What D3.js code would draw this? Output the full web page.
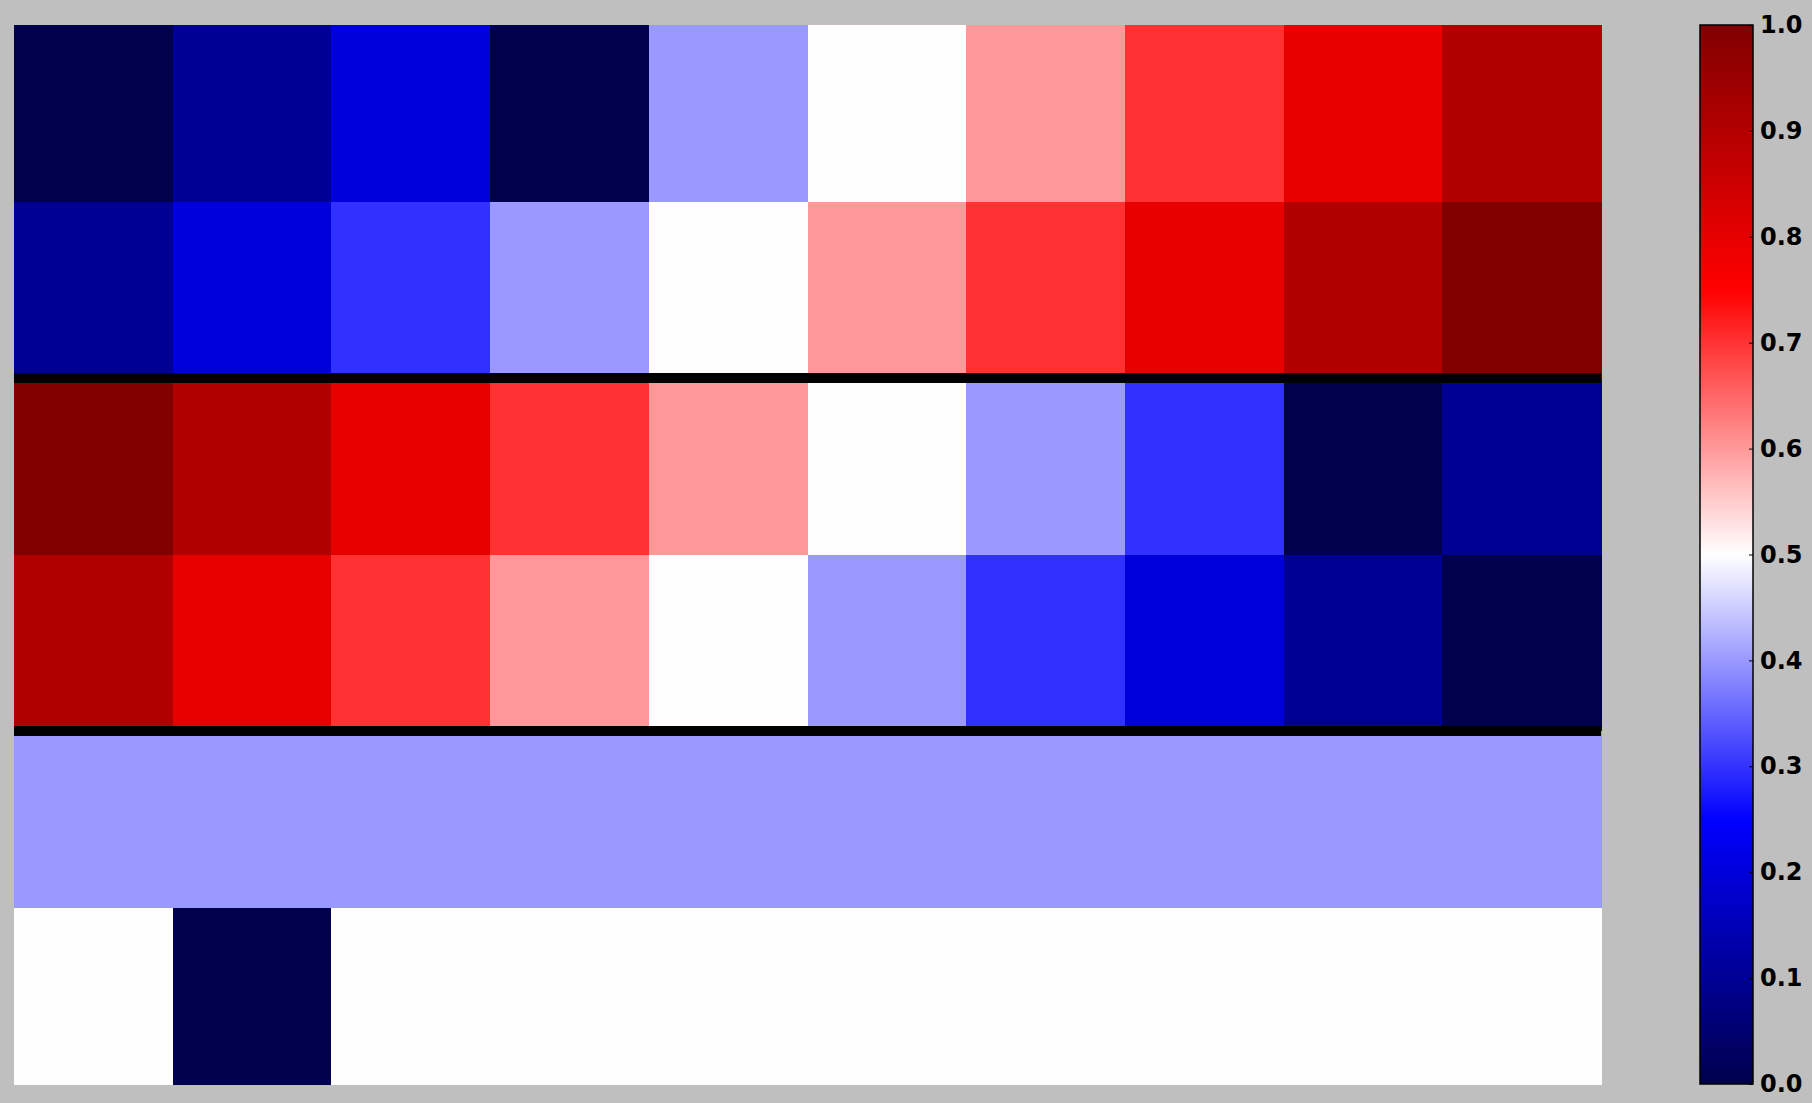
<!DOCTYPE html>
<html>
<head>
<meta charset="utf-8">
<script src="https://cdn.jsdelivr.net/npm/d3@7"></script>
<style>
  html, body { margin: 0; padding: 0; background: #bfbfbf; }
  svg { display: block; }
  .cbar text { font-family: "DejaVu Sans", sans-serif; font-weight: bold; font-size: 24px; fill: #000; }
</style>
</head>
<body>
<script>
var w = 1812, h = 1103;
var margin = {"left": 14, "top": 25, "bottom": 19};
var mapWidth = 1587;
var mapHeight = h - margin.top - margin.bottom;

var columns = ["c1","c2","c3","c4","c5","c6","c7","c8","c9","c10"];
var rows = ["r1","r2","r3","r4","r5","r6"];
var row1 = [0.0, 0.1, 0.2, 0.0, 0.4, 0.5, 0.6, 0.7, 0.8, 0.9];
var row2 = [0.1, 0.2, 0.3, 0.4, 0.5, 0.6, 0.7, 0.8, 0.9, 1.0];
var row3 = [1.0, 0.9, 0.8, 0.7, 0.6, 0.5, 0.4, 0.3, 0.0, 0.1];
var row4 = [0.9, 0.8, 0.7, 0.6, 0.5, 0.4, 0.3, 0.2, 0.1, 0.0];
var row5 = [0.4, 0.4, 0.4, 0.4, 0.4, 0.4, 0.4, 0.4, 0.4, 0.4];
var row6 = [0.5, 0.0, 0.5, 0.5, 0.5, 0.5, 0.5, 0.5, 0.5, 0.5];
var separators = [2, 4];   // black line after these rows
var tickValues = [0.0, 0.1, 0.2, 0.3, 0.4, 0.5, 0.6, 0.7, 0.8, 0.9, 1.0];

var matrix = [row1, row2, row3, row4, row5, row6];
var cells = [];
matrix.forEach(function(r, i){
    r.forEach(function(v, j){
        cells.push({row: rows[i], col: columns[j], value: v});
    });
});

// seismic colormap, quantised to 256 levels like matplotlib
var seismic = d3.scaleLinear()
    .domain([0, 0.25, 0.5, 0.75, 1])
    .range(["#00004c", "#0000ff", "#ffffff", "#ff0000", "#800000"])
    .clamp(true);
function colour(v){
    var idx = Math.min(255, Math.max(0, Math.floor(v * 256)));
    return seismic(idx / 255);
}

var svg = d3.select("body")
            .append("svg")
            .attr("width", w)
            .attr("height", h);

var xScale = d3.scaleBand()
                .domain(columns)
                .range([margin.left, margin.left + mapWidth]);
var yScale = d3.scaleBand()
                .domain(rows)
                .range([margin.top, margin.top + mapHeight]);

svg.append("g")
    .attr("id", "heatmap")
    .selectAll("rect")
    .data(cells)
    .enter()
    .append("rect")
    .attr("x", function(d){ return xScale(d.col); })
    .attr("y", function(d){ return yScale(d.row); })
    .attr("width", xScale.bandwidth() + 0.5)
    .attr("height", yScale.bandwidth() + 0.5)
    .attr("fill", function(d){ return colour(d.value); })
    .attr("shape-rendering", "crispEdges");

svg.append("g")
    .selectAll("line")
    .data(separators)
    .enter()
    .append("line")
    .attr("x1", margin.left)
    .attr("x2", margin.left + mapWidth)
    .attr("y1", function(d){ return yScale(rows[d]); })
    .attr("y2", function(d){ return yScale(rows[d]); })
    .attr("stroke", "#000")
    .attr("stroke-width", 10);

// colorbar
var cbX = 1700, cbW = 53;
var cScale = d3.scaleLinear()
                .domain([0, 1])
                .range([margin.top + mapHeight, margin.top]);

var grad = svg.append("defs").append("linearGradient")
    .attr("id", "cbgrad")
    .attr("x1", 0).attr("y1", 1).attr("x2", 0).attr("y2", 0);
grad.selectAll("stop")
    .data(d3.range(0, 256))
    .enter()
    .append("stop")
    .attr("offset", function(d){ return d / 255; })
    .attr("stop-color", function(d){ return seismic(d / 255); });

var cbar = svg.append("g").classed("cbar", true);
cbar.append("rect")
    .attr("x", cbX)
    .attr("y", margin.top)
    .attr("width", cbW)
    .attr("height", mapHeight)
    .attr("fill", "url(#cbgrad)")
    .attr("stroke", "#000")
    .attr("stroke-width", 1.5);

var cAxis = d3.axisRight(cScale)
    .tickValues(tickValues)
    .tickSize(0)
    .tickPadding(7)
    .tickFormat(d3.format(".1f"));
var axisG = cbar.append("g")
    .attr("transform", "translate(" + (cbX + cbW) + ",0)")
    .call(cAxis);
axisG.select(".domain").remove();
axisG.selectAll("text")
    .attr("font-family", null)
    .attr("font-size", null);
axisG.selectAll(".tick").append("line")
    .attr("x1", -4).attr("x2", 0)
    .attr("stroke", "#000");
</script>
</body>
</html>
